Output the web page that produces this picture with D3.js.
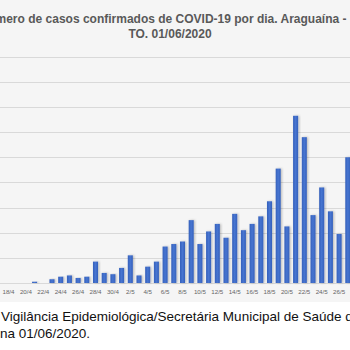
<!DOCTYPE html>
<html>
<head>
<meta charset="utf-8">
<script src="https://cdn.jsdelivr.net/npm/d3@7"></script>
<style>
  body { margin: 0; background: #fff; }
  svg { display: block; }
</style>
</head>
<body>
<div id="chart"></div>
<script>
// daily confirmed cases
const dates = ["18/4", "19/4", "20/4", "21/4", "22/4", "23/4", "24/4", "25/4", "26/4", "27/4",
  "28/4", "29/4", "30/4", "1/5", "2/5", "3/5", "4/5", "5/5", "6/5", "7/5",
  "8/5", "9/5", "10/5", "11/5", "12/5", "13/5", "14/5", "15/5", "16/5", "17/5",
  "18/5", "19/5", "20/5", "21/5", "22/5", "23/5", "24/5", "25/5", "26/5", "27/5"];
const cases = [0, 0, 0, 1, 0, 3, 5, 6, 4, 5,
  17, 8, 7, 12, 22, 6, 13, 17, 29, 31,
  33, 50, 31, 41, 47, 36, 55, 42, 47, 53,
  65, 91, 45, 133, 116, 54, 76, 57, 39, 100];
const yTicks = [0, 20, 40, 60, 80, 100, 120, 140, 160, 180];
const titleLines = ["Número de casos confirmados de COVID-19 por dia. Araguaína -", "TO. 01/06/2020"];
const sourceLines = ["Vigilância Epidemiológica/Secretária Municipal de Saúde de Araguaína", "na 01/06/2020."];

const width = 350;
const height = 350;
const step = 8.7;
const left = 4.15;
const baseY = 283;
const topY = 56.7;

const data = dates.map((d, i) => ({ date: d, value: cases[i] }));

const svg = d3.select("#chart")
  .append("svg")
  .attr("width", width)
  .attr("height", height);

// chart area background
svg.append("rect")
  .attr("x", 0).attr("y", 0)
  .attr("width", width).attr("height", 302)
  .attr("fill", "#f5f5f5");

const defs = svg.append("defs");
const grad = defs.append("linearGradient")
  .attr("id", "barGrad")
  .attr("x1", "0%").attr("x2", "100%").attr("y1", "0%").attr("y2", "0%");
grad.append("stop").attr("offset", "0%").attr("stop-color", "#3560bb");
grad.append("stop").attr("offset", "50%").attr("stop-color", "#4775d1");
grad.append("stop").attr("offset", "100%").attr("stop-color", "#3560bb");

const shadow = defs.append("filter").attr("id", "shadow")
  .attr("x", "-50%").attr("y", "-10%").attr("width", "200%").attr("height", "120%");
shadow.append("feDropShadow")
  .attr("dx", 1.2).attr("dy", 0)
  .attr("stdDeviation", 1)
  .attr("flood-color", "#000")
  .attr("flood-opacity", 0.25);

const x = d3.scaleBand()
  .domain(dates)
  .range([left, left + dates.length * step])
  .paddingInner(0.42)
  .paddingOuter(0.21);

const y = d3.scaleLinear()
  .domain([0, 180])
  .range([baseY, topY]);

// gridlines
svg.append("g")
  .selectAll("line")
  .data(yTicks)
  .enter()
  .append("line")
  .attr("x1", 0)
  .attr("x2", width)
  .attr("y1", d => Math.round(y(d)) + 0.5)
  .attr("y2", d => Math.round(y(d)) + 0.5)
  .attr("stroke", "#d9d9d9")
  .attr("stroke-width", 1.2);

// bars
svg.append("g")
  .selectAll(".bar")
  .data(data)
  .enter()
  .append("rect")
  .attr("class", "bar")
  .attr("x", d => x(d.date))
  .attr("y", d => y(d.value))
  .attr("width", x.bandwidth())
  .attr("height", d => baseY - y(d.value))
  .attr("fill", "url(#barGrad)")
  .attr("filter", "url(#shadow)");

// x labels, every other day
svg.append("g")
  .selectAll("text")
  .data(dates.filter((d, i) => i % 2 === 0))
  .enter()
  .append("text")
  .attr("x", d => x(d) + x.bandwidth() / 2)
  .attr("y", 294)
  .attr("text-anchor", "middle")
  .style("font-family", "'Liberation Sans', Arial, sans-serif")
  .style("font-size", "6.2px")
  .style("fill", "#666")
  .text(d => d);

// title (cropped on the left in the original picture)
svg.append("g")
  .selectAll("text")
  .data(titleLines)
  .enter()
  .append("text")
  .attr("x", (d, i) => i === 0 ? 163 : 170)
  .attr("y", (d, i) => 22.5 + i * 15.5)
  .attr("text-anchor", "middle")
  .style("font-family", "'Liberation Sans', Arial, sans-serif")
  .style("font-size", "12px")
  .style("font-weight", 700)
  .style("fill", "#595959")
  .text(d => d);

// source note
svg.append("g")
  .selectAll("text")
  .data(sourceLines)
  .enter()
  .append("text")
  .attr("x", (d, i) => i === 0 ? 1 : 0)
  .attr("y", (d, i) => 321 + i * 17)
  .style("font-family", "'Liberation Sans', Arial, sans-serif")
  .style("font-size", "13.5px")
  .style("fill", "#111")
  .text(d => d);
</script>
</body>
</html>
